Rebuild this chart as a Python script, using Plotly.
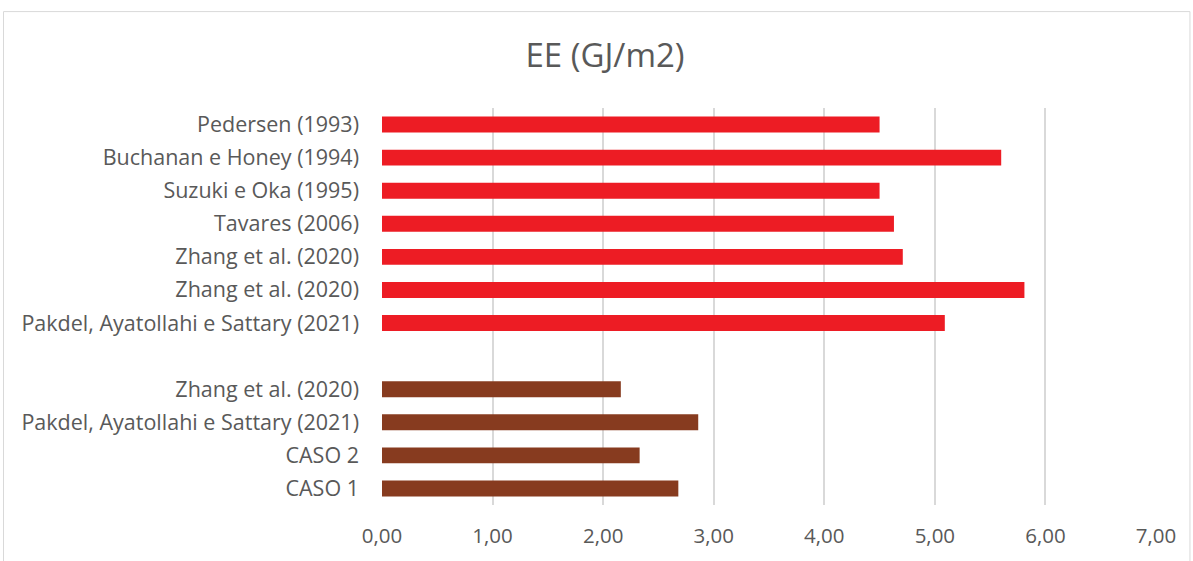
import plotly.graph_objects as go

# Data (top to bottom)
labels_red = ["Pedersen (1993)", "Buchanan e Honey (1994)", "Suzuki e Oka (1995)",
              "Tavares (2006)", "Zhang et al. (2020)", "Zhang et al. (2020)",
              "Pakdel, Ayatollahi e Sattary (2021)"]
values_red = [4.50, 5.60, 4.50, 4.63, 4.71, 5.81, 5.09]

labels_brown = ["Zhang et al. (2020)", "Pakdel, Ayatollahi e Sattary (2021)",
                "CASO 2", "CASO 1"]
values_brown = [2.16, 2.86, 2.33, 2.68]

x_ticks = [0, 1, 2, 3, 4, 5, 6, 7]
title_text = "EE (GJ/m2)"

n_slots = len(labels_red) + 1 + len(labels_brown)
top = n_slots - 1
y_red = [top - i for i in range(len(labels_red))]
y_brown = [top - len(labels_red) - 1 - i for i in range(len(labels_brown))]

font_family = "'Open Sans', sans-serif"
txt = "#595959"

fig = go.Figure()
fig.add_trace(go.Bar(y=y_red, x=values_red, orientation="h",
                     marker=dict(color="#ED1C24", line=dict(width=0)),
                     width=0.48, showlegend=False, hoverinfo="x"))
fig.add_trace(go.Bar(y=y_brown, x=values_brown, orientation="h",
                     marker=dict(color="#873B1F", line=dict(width=0)),
                     width=0.48, showlegend=False, hoverinfo="x"))

W, H = 1193, 561
ml, mr, mt, mb = 381.5, 36.5, 107.5, 54
pw = W - ml - mr
ph = H - mt - mb

fig.update_layout(
    width=W, height=H,
    margin=dict(l=ml, r=mr, t=mt, b=mb),
    paper_bgcolor="white", plot_bgcolor="white",
    separators=",.",
    title=dict(text=title_text, x=605 / W, xanchor="center",
               y=1 - 55 / H, yanchor="middle",
               font=dict(family=font_family, size=33, color=txt)),
    font=dict(family=font_family, color=txt),
    xaxis=dict(range=[0, 7], tickvals=x_ticks, tickformat=".2f",
               showgrid=True, gridcolor="#D9D9D9", gridwidth=1.5,
               zeroline=False, showline=False, ticks="",
               ticklabelstandoff=16,
               tickfont=dict(family=font_family, size=20.5, color=txt)),
    yaxis=dict(range=[-0.5, n_slots - 0.5],
               tickvals=y_red + y_brown, ticktext=labels_red + labels_brown,
               showgrid=False, zeroline=False, showline=False, ticks="",
               ticklabelstandoff=22,
               tickfont=dict(family=font_family, size=21.5, color=txt)),
    shapes=[dict(type="rect", xref="paper", yref="paper",
                 x0=(2.5 - ml) / pw, x1=(1190.5 - ml) / pw,
                 y0=(H - mb - 575) / ph, y1=(H - mb - 10.5) / ph,
                 line=dict(color="#D9D9D9", width=1), layer="below")],
)

fig.write_html("out.html", config={"displayModeBar": False},
               post_script="document.body.style.margin='0px';document.body.style.overflow='hidden';")
